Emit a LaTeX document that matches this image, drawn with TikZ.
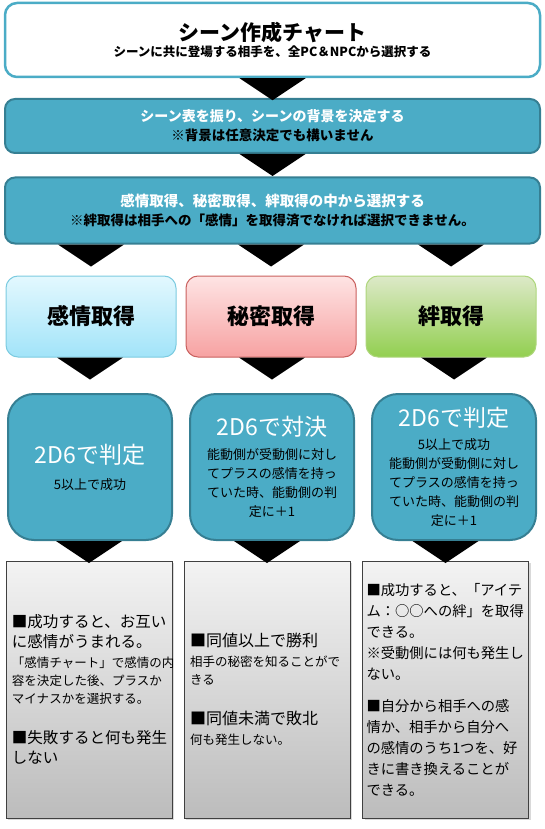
\documentclass[tikz,border=0pt]{standalone}
\usepackage{fontspec}
\setmainfont{Noto Sans CJK JP}
\usetikzlibrary{calc, shadows}

\definecolor{chartteal}{HTML}{4BACC6}
\definecolor{chartedge}{HTML}{367F93}
\definecolor{cyantop}{HTML}{E3F8FE}
\definecolor{cyanbot}{HTML}{A2E4F9}
\definecolor{cyanedge}{HTML}{7CCBE0}
\definecolor{pinktop}{HTML}{FEE4E4}
\definecolor{pinkbot}{HTML}{F7A2A2}
\definecolor{pinkedge}{HTML}{C9605E}
\definecolor{greentop}{HTML}{DDE9C8}
\definecolor{greenbot}{HTML}{92CF50}
\definecolor{greenedge}{HTML}{AED67C}
\definecolor{graytop}{HTML}{F3F3F3}
\definecolor{graybot}{HTML}{BCBCBC}

\newcommand{\notefont}{\fontsize{12.5}{18}\selectfont}
\newcommand{\flowtri}[2]{\fill[black] ($(#1.south -| #2.north)+(-33,0)$) -- ($(#1.south -| #2.north)+(33,0)$) -- ($(#1.south -| #2.north)+(0,22)$) -- cycle;}

\begin{document}
\begin{tikzpicture}[x=1pt, y=-1pt,
    titlebox/.style={draw=chartteal, line width=2.5pt, fill=white, rounded corners=12pt, minimum width=535pt, minimum height=74pt, align=center, inner sep=0pt},
    stepbar/.style={draw=chartedge, line width=2pt, fill=chartteal, rounded corners=10pt, minimum width=535pt, align=center, inner sep=0pt, font=\bfseries\fontsize{13.5}{19}\selectfont},
    pick/.style={line width=1pt, rounded corners=12pt, minimum width=170pt, minimum height=81pt, inner sep=0pt, font=\bfseries\fontsize{22}{26}\selectfont},
    judge/.style={draw=chartedge, line width=2pt, fill=chartteal, rounded corners=26pt, minimum width=164pt, minimum height=146pt, align=center, inner sep=0pt, font=\fontsize{13}{19}\selectfont},
    result/.style={draw=black!75, line width=0.8pt, top color=graytop, bottom color=graybot, minimum width=166pt, minimum height=257pt, text width=154pt, align=left, inner sep=0pt, drop shadow={shadow xshift=2pt, shadow yshift=-2pt, opacity=0.3}},
    rolltitle/.style={}
]
\useasboundingbox (0,0) rectangle (545,829);

% Header and common steps
\node[titlebox] (Title) at (272.5,40) {{\bfseries\fontsize{21}{24}\selectfont シーン作成チャート}\\[1pt]
    {\bfseries\fontsize{12.5}{16}\selectfont シーンに共に登場する相手を、全PC＆NPCから選択する}};
\node[stepbar, minimum height=54pt] (Roll) at (272.5,126) {{\color{white}\fontsize{14}{19}\selectfont シーン表を振り、シーンの背景を決定する}\\
    ※背景は任意決定でも構いません};
\node[stepbar, minimum height=66pt] (Choose) at (272.5,210.5) {{\color{white}\fontsize{14.5}{19}\selectfont 感情取得、秘密取得、絆取得の中から選択する}\\
    ※絆取得は相手への「感情」を取得済でなければ選択できません。};

% Three kinds of acquisition
\node[pick, draw=cyanedge, top color=cyantop, bottom color=cyanbot] (Emotion) at (91,316.5) {感情取得};
\node[pick, draw=pinkedge, top color=pinktop, bottom color=pinkbot] (Secret) at (271,316.5) {秘密取得};
\node[pick, draw=greenedge, top color=greentop, bottom color=greenbot] (Bond) at (451,316.5) {絆取得};

% Dice checks
\node[judge] (EmotionRoll) at (90,467) {{\color{white}\fontsize{23}{26}\selectfont 2D6で判定}\\[7pt]
    5以上で成功};
\node[judge] (SecretRoll) at (272,467) {{\color{white}\fontsize{23}{26}\selectfont 2D6で対決}\\[5pt]
    能動側が受動側に対し\\
    てプラスの感情を持っ\\
    ていた時、能動側の判\\
    定に＋1};
\node[judge] (BondRoll) at (454,467) {{\color{white}\fontsize{23}{26}\selectfont 2D6で判定}\\[4pt]
    5以上で成功\\
    能動側が受動側に対し\\
    てプラスの感情を持っ\\
    ていた時、能動側の判\\
    定に＋1};

% Outcomes
\node[result, font=\fontsize{15.5}{20}\selectfont] (EmotionResult) at (89,689.5) {■成功すると、お互い\\
    に感情がうまれる。\\
    {\notefont 「感情チャート」で感情の内}\\[-2pt]
    {\notefont 容を決定した後、プラスか}\\[-2pt]
    {\notefont マイナスかを選択する。}\\[20pt]
    ■失敗すると何も発生\\
    しない};
\node[result, font=\fontsize{16}{20}\selectfont] (SecretResult) at (267,689.5) {■同値以上で勝利\\
    {\notefont 相手の秘密を知ることがで}\\[-2pt]
    {\notefont きる}\\[20pt]
    ■同値未満で敗北\\
    {\notefont 何も発生しない。}};
\node[result, text width=158pt, font=\fontsize{14.3}{21}\selectfont] (BondResult) at (445.5,689.5) {■成功すると、「アイテ\\
    ム：○○への絆」を取得\\
    できる。\\
    ※受動側には何も発生し\\
    ない。\\[11pt]
    ■自分から相手への感\\
    情か、相手から自分へ\\
    の感情のうち1つを、好\\
    きに書き換えることが\\
    できる。};

% Arrows
\flowtri{Title}{Roll}
\flowtri{Roll}{Choose}
\flowtri{Choose}{Emotion}
\flowtri{Choose}{Secret}
\flowtri{Choose}{Bond}
\flowtri{Emotion}{EmotionRoll}
\flowtri{Secret}{SecretRoll}
\flowtri{Bond}{BondRoll}
\flowtri{EmotionRoll}{EmotionResult}
\flowtri{SecretRoll}{SecretResult}
\flowtri{BondRoll}{BondResult}

\end{tikzpicture}
\end{document}
